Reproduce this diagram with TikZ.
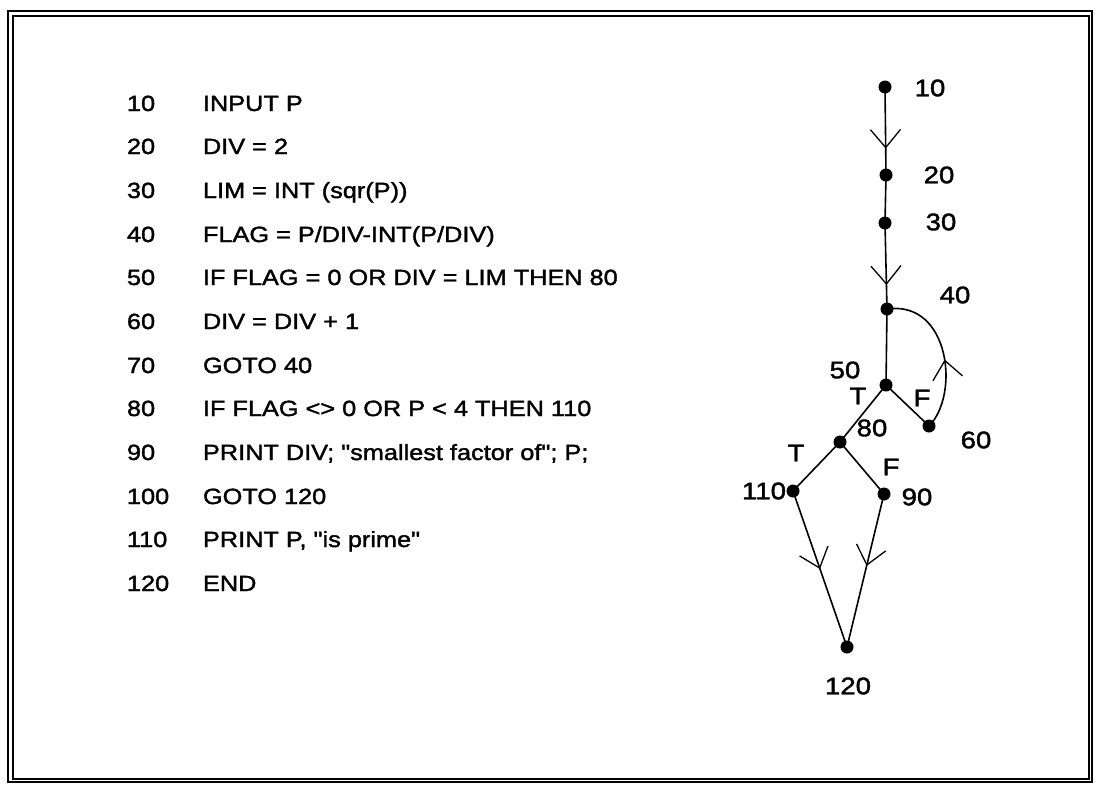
\documentclass[tikz,border=0pt]{standalone}
\usepackage{fontspec}
\setmainfont{Liberation Sans}[FakeStretch=1.15, FakeBold=1.6, Ligatures=TeXOff]
\usetikzlibrary{arrows.meta,decorations.markings}

\begin{document}
\begin{tikzpicture}[x=1pt, y=-1pt,
    every node/.style={inner sep=0pt, outer sep=0pt},
    num/.style={anchor=base west, font=\fontsize{22}{25}\selectfont},
    code/.style={anchor=base west, font=\fontsize{22}{25}\selectfont},
    dot/.style={circle, fill=black, minimum size=13pt},
    lbl/.style={font=\fontsize{24}{28}\selectfont},
    edge/.style={line width=1.6pt},
    midarr/.style={edge, postaction={decorate}, decoration={markings,
        mark=at position #1 with {\arrow{Straight Barb[length=18pt, width=30pt, line width=1.3pt]}}}}
  ]
    \useasboundingbox (0,0) rectangle (1096,785);
    \draw[line width=1.6pt] (8,11) rectangle (1092,782);
    \draw[line width=1.1pt] (13,16) rectangle (1089,779);

    % program listing
    \node[num] (k10) at (127,111) {10};   \node[code] (s10) at (203,111) {INPUT P};
    \node[num] (k20) at (127,154) {20};   \node[code] (s20) at (203,154) {DIV = 2};
    \node[num] (k30) at (127,198) {30};   \node[code] (s30) at (203,198) {LIM = INT (sqr(P))};
    \node[num] (k40) at (127,242) {40};   \node[code] (s40) at (203,242) {FLAG = P/DIV-INT(P/DIV)};
    \node[num] (k50) at (127,285) {50};   \node[code] (s50) at (203,285) {IF FLAG = 0 OR DIV = LIM THEN 80};
    \node[num] (k60) at (127,329) {60};   \node[code] (s60) at (203,329) {DIV = DIV + 1};
    \node[num] (k70) at (127,373) {70};   \node[code] (s70) at (203,373) {GOTO 40};
    \node[num] (k80) at (127,416) {80};   \node[code] (s80) at (203,416) {IF FLAG <> 0 OR P < 4 THEN 110};
    \node[num] (k90) at (127,460) {90};   \node[code] (s90) at (203,460) {PRINT DIV; "smallest factor of"; P;};
    \node[num] (k100) at (127,504) {100}; \node[code] (s100) at (203,504) {GOTO 120};
    \node[num] (k110) at (127,547) {110}; \node[code] (s110) at (203,547) {PRINT P, "is prime"};
    \node[num] (k120) at (127,591) {120}; \node[code] (s120) at (203,591) {END};

    % control flow graph
    \node[dot] (n10) at (885,87) {};
    \node[dot] (n20) at (886,175) {};
    \node[dot] (n30) at (885,223) {};
    \node[dot] (n40) at (887,309) {};
    \node[dot] (n50) at (886,385) {};
    \node[dot] (n60) at (929,426) {};
    \node[dot] (n80) at (840,442) {};
    \node[dot] (n110) at (793,491) {};
    \node[dot] (n90) at (884,494) {};
    \node[dot] (n120) at (847,647) {};

    \node[lbl] (l10) at (930,88) {10};
    \node[lbl] (l20) at (939,175) {20};
    \node[lbl] (l30) at (941,222) {30};
    \node[lbl] (l40) at (955,295) {40};
    \node[lbl] (l50) at (845,370) {50};
    \node[lbl] (l60) at (976,440) {60};
    \node[lbl] (l80) at (872,428) {80};
    \node[lbl, anchor=east] (l110) at (786,491) {110};
    \node[lbl] (l90) at (917,497) {90};
    \node[lbl] (l120) at (848,686) {120};
    \node[lbl] (t50) at (858,396) {T};
    \node[lbl] (f50) at (922,398) {F};
    \node[lbl] (t80) at (796,453) {T};
    \node[lbl] (f80) at (891,467) {F};

    \draw[midarr=0.7] (n10.center) -- (n20.center);
    \draw[edge] (n20.center) -- (n30.center);
    \draw[midarr=0.72] (n30.center) -- (n40.center);
    \draw[edge] (n40.center) -- (n50.center);
    \draw[edge] (n50.center) -- (n80.center);
    \draw[edge] (n50.center) -- (n60.center);
    \draw[edge] (n80.center) -- (n110.center);
    \draw[edge] (n80.center) -- (n90.center);
    \draw[midarr=0.5] (n110.center) -- (n120.center);
    \draw[midarr=0.47] (n90.center) -- (n120.center);
    \draw[midarr=0.45] (n60.center) .. controls (960,395) and (950,300) .. (n40.center);
  \end{tikzpicture}
\end{document}
